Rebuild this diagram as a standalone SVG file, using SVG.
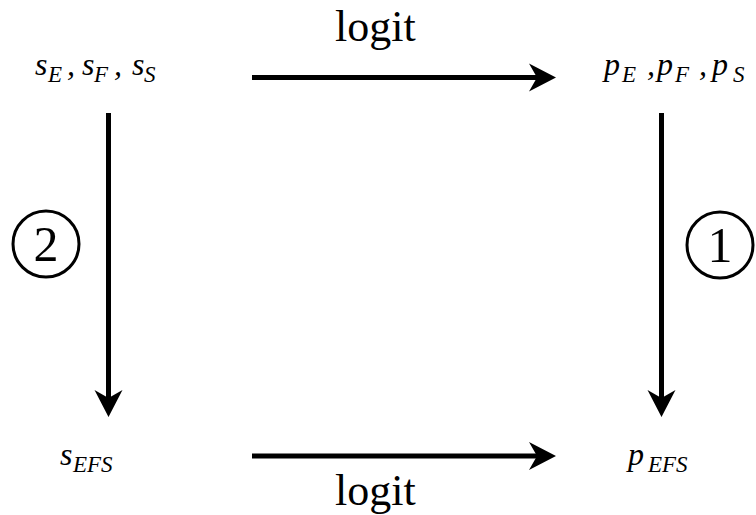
<svg xmlns="http://www.w3.org/2000/svg" width="756" height="515" viewBox="0 0 756 515">
  <style>
    .edge { stroke: #000; stroke-width: 5; fill: none; }
    .m { font-family: 'Liberation Serif', 'Times New Roman', Times, serif; font-style: italic; fill: #000; }
    .big { font-size: 32px; }
    .sub { font-size: 23px; }
    .lbl { font-family: 'Liberation Serif', 'Times New Roman', Times, serif; font-size: 44px; fill: #000; }
    .num { font-family: 'Liberation Serif', 'Times New Roman', Times, serif; font-size: 50px; fill: #000; }
    .ring { fill: none; stroke: #000; stroke-width: 3; }
  </style>
  <defs>
    <marker id="head" markerUnits="userSpaceOnUse" orient="auto" refX="0" refY="0" markerWidth="40" markerHeight="40" overflow="visible">
      <path d="M11,0 L-16,-14 L-8,0 L-16,14 Z" fill="#000"/>
    </marker>
  </defs>
  <rect width="756" height="515" fill="#fff"/>

  <g id="connectors">
    <line class="edge" x1="252" y1="77.5" x2="545" y2="77.5" marker-end="url(#head)"/>
    <line class="edge" x1="252" y1="456" x2="545" y2="456" marker-end="url(#head)"/>
    <line class="edge" x1="108.5" y1="113" x2="108.5" y2="406" marker-end="url(#head)"/>
    <line class="edge" x1="661.5" y1="113" x2="661.5" y2="406" marker-end="url(#head)"/>
    <text class="lbl" x="335" y="41">logit</text>
    <text class="lbl" x="335" y="505">logit</text>
    <g id="step2">
      <circle class="ring" cx="46" cy="244" r="33"/>
      <text class="num" x="46" y="261" text-anchor="middle">2</text>
    </g>
    <g id="step1">
      <circle class="ring" cx="720" cy="245" r="33"/>
      <text class="num" x="720" y="262" text-anchor="middle">1</text>
    </g>
  </g>

  <g id="scores">
    <text class="m"><tspan class="big" x="35" y="75">s</tspan><tspan class="sub" x="48" y="82">E</tspan><tspan class="big" x="67" y="75">,</tspan><tspan class="big" x="82" y="75">s</tspan><tspan class="sub" x="94" y="82">F</tspan><tspan class="big" x="114" y="75">,</tspan><tspan class="big" x="132" y="75">s</tspan><tspan class="sub" x="144" y="82">S</tspan></text>
  </g>
  <g id="probs">
    <text class="m"><tspan class="big" x="604" y="75">p</tspan><tspan class="sub" x="622" y="82">E</tspan><tspan class="big" x="647" y="75">,</tspan><tspan class="big" x="657" y="75">p</tspan><tspan class="sub" x="675" y="82">F</tspan><tspan class="big" x="699" y="75">,</tspan><tspan class="big" x="712" y="75">p</tspan><tspan class="sub" x="733" y="82">S</tspan></text>
  </g>
  <g id="score-efs">
    <text class="m"><tspan class="big" x="60" y="465">s</tspan><tspan class="sub" x="73" y="472">EFS</tspan></text>
  </g>
  <g id="prob-efs">
    <text class="m"><tspan class="big" x="628" y="465">p</tspan><tspan class="sub" x="648" y="472">EFS</tspan></text>
  </g>
</svg>
